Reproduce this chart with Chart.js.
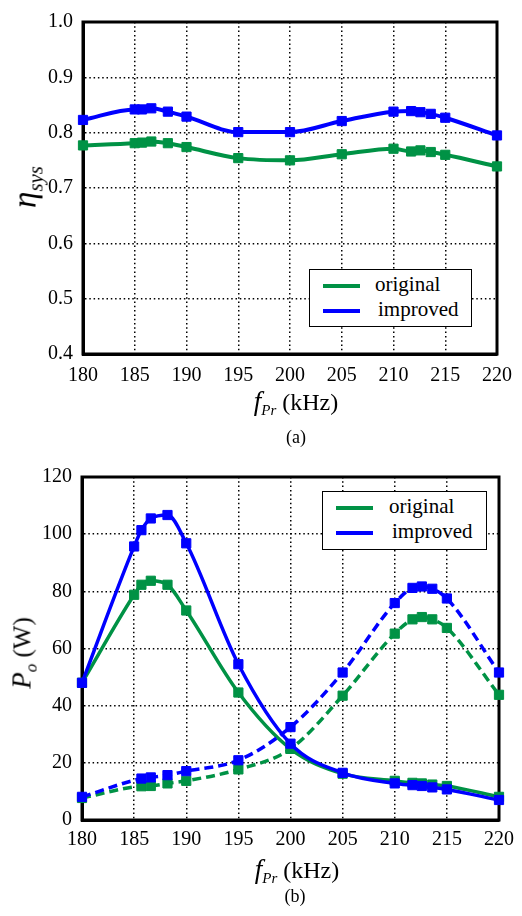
<!DOCTYPE html>
<html>
<head>
<meta charset="utf-8">
<script src="https://cdn.jsdelivr.net/npm/chart.js"></script>
<style>
  body { margin: 0; background: #fff; }
  #wrap { position: relative; width: 522px; height: 916px; font-family: "Liberation Serif", "Times New Roman", serif; color: #000; }
  canvas { position: absolute; left: 0; }
  .lbl { position: absolute; transform: translate(-50%, -50%); white-space: nowrap; line-height: 1; }
  .rot { transform: translate(-50%, -50%) rotate(-90deg); }
  .sub { position: relative; top: 0.35em; }
  .legend { position: absolute; box-sizing: border-box; border: 1.5px solid #000; background: #fff; }
  .sw { position: absolute; height: 4px; width: 37px; margin-top: -2px; }
  .lt { position: absolute; font-size: 21px; line-height: 1; transform: translateY(-55%); }
</style>
</head>
<body>
<div id="wrap">
  <canvas id="effChart" width="522" height="425" style="top:0"></canvas>
  <canvas id="powChart" width="522" height="461" style="top:455px"></canvas>

  <div class="lbl rot" style="left:25px;top:187px;font-size:33px"><i>η</i><span class="sub" style="font-size:21px"><i>sys</i></span></div>
  <div class="lbl" style="left:296px;top:401px;font-size:24px"><i style="font-size:27px">f</i><span class="sub" style="font-size:15px;top:0.3em"><i>Pr</i></span> (kHz)</div>
  <div class="lbl" style="left:296px;top:437px;font-size:18px">(a)</div>

  <div class="lbl rot" style="left:22px;top:653px;font-size:25px"><i style="font-size:27px">P</i><span class="sub" style="font-size:17px"><i>o</i></span> (W)</div>
  <div class="lbl" style="left:297px;top:869px;font-size:24px"><i style="font-size:27px">f</i><span class="sub" style="font-size:15px;top:0.3em"><i>Pr</i></span> (kHz)</div>
  <div class="lbl" style="left:295px;top:896px;font-size:18px">(b)</div>

  <div class="legend" style="left:309px;top:269px;width:163px;height:58px">
    <div class="sw" style="left:13px;top:16px;background:#009245"></div>
    <div class="lt" style="left:65px;top:16px">original</div>
    <div class="sw" style="left:13px;top:41px;background:#0000ff"></div>
    <div class="lt" style="left:68px;top:41px">improved</div>
  </div>
  <div class="legend" style="left:322px;top:491px;width:165px;height:59px">
    <div class="sw" style="left:13px;top:16px;background:#009245"></div>
    <div class="lt" style="left:66px;top:16px">original</div>
    <div class="sw" style="left:13px;top:41px;background:#0000ff"></div>
    <div class="lt" style="left:69px;top:41px">improved</div>
  </div>
</div>

<script>
// resonant frequency sweep (kHz)
const freq = [180, 185, 185.7, 186.6, 188.2, 190, 195, 200, 205, 210, 211.7, 212.6, 213.6, 215, 220];
const freqDashed = [180, 185.7, 186.6, 188.2, 190, 195, 200, 205, 210, 211.7, 212.6, 213.6, 215, 220];

// (a) system efficiency
const effOriginal = [0.777, 0.781, 0.782, 0.784, 0.781, 0.774, 0.754, 0.750, 0.761, 0.771, 0.766, 0.768, 0.765, 0.760, 0.739];
const effImproved = [0.823, 0.842, 0.842, 0.844, 0.838, 0.829, 0.801, 0.801, 0.821, 0.838, 0.839, 0.837, 0.834, 0.827, 0.795];

// (b) output power (W), solid = first receiver, dashed = second receiver
const powOriginal = [48, 78.8, 82.3, 83.7, 82.3, 73.3, 44.6, 24.9, 16.2, 13.7, 13.0, 12.8, 12.4, 11.9, 8.1];
const powImproved = [48, 95.7, 101.4, 105.5, 106.7, 96.8, 54.5, 26.7, 16.5, 12.8, 12.2, 11.9, 11.4, 10.7, 7.0];
const powOriginalDashed = [7.7, 11.8, 11.9, 12.8, 13.7, 17.7, 24.9, 43.5, 65.2, 70.2, 71.0, 70.2, 67.2, 43.8];
const powImprovedDashed = [8.1, 14.5, 14.9, 15.7, 17.1, 20.9, 32.5, 51.6, 75.9, 81.2, 81.7, 80.9, 77.5, 51.6];

const xTicks = [180, 185, 190, 195, 200, 205, 210, 215, 220];

const GREEN = '#009245';
const BLUE = '#0000ff';

Chart.defaults.font.family = '"Liberation Serif", "Times New Roman", serif';
Chart.defaults.font.size = 20;
Chart.defaults.color = '#000';

const pts = (xs, ys) => xs.map((x, i) => ({x: x, y: ys[i]}));

function series(data, color, dashed, width) {
    return {
        data: data,
        borderColor: color,
        backgroundColor: color,
        borderWidth: width,
        borderDash: dashed ? [9, 5] : [],
        pointStyle: 'rect',
        pointRadius: 6.5,
        pointBorderWidth: 1,
        cubicInterpolationMode: 'monotone',
        clip: false
    };
}

// heavy box round the plot area
const frame = {
    id: 'frame',
    beforeDatasetsDraw(chart) {
        const a = chart.chartArea, c = chart.ctx;
        c.save();
        c.strokeStyle = '#000';
        c.lineWidth = 3;
        c.strokeRect(a.left, a.top, a.right - a.left, a.bottom - a.top);
        c.restore();
    }
};

function options(yMin, yMax, yStep, yFmt, yWidth, xHeight, xPad, pad) {
    const grid = { color: '#000', lineWidth: 1.5, drawTicks: false };
    const border = { color: '#000', width: 3, dash: [1.5, 2.8] };
    return {
        responsive: false,
        animation: false,
        layout: { padding: pad },
        plugins: { legend: { display: false }, tooltip: { enabled: false } },
        scales: {
            x: {
                type: 'linear', min: 180, max: 220,
                afterBuildTicks: s => { s.ticks = xTicks.map(v => ({value: v})); },
                afterFit: s => { s.height = xHeight; },
                ticks: { padding: xPad },
                grid: grid, border: border
            },
            y: {
                min: yMin, max: yMax,
                ticks: { stepSize: yStep, padding: 10, callback: yFmt },
                afterFit: s => { s.width = yWidth; },
                grid: grid, border: border
            }
        }
    };
}

new Chart(document.getElementById('effChart'), {
    type: 'line',
    data: {
        datasets: [
            series(pts(freq, effImproved), BLUE, false, 4),
            series(pts(freq, effOriginal), GREEN, false, 4)
        ]
    },
    options: options(0.4, 1.0, 0.1, v => v.toFixed(1), 83, 71, 10, {top: 15, right: 23, left: 0, bottom: 0}),
    plugins: [frame]
});

new Chart(document.getElementById('powChart'), {
    type: 'line',
    data: {
        datasets: [
            series(pts(freq, powImproved), BLUE, false, 3.5),
            series(pts(freqDashed, powImprovedDashed), BLUE, true, 3.5),
            series(pts(freq, powOriginal), GREEN, false, 3.5),
            series(pts(freqDashed, powOriginalDashed), GREEN, true, 3.5)
        ]
    },
    options: options(0, 120, 20, v => String(v), 82, 96, 8, {top: 19, right: 17, left: 0, bottom: 0}),
    plugins: [frame]
});
</script>
</body>
</html>
